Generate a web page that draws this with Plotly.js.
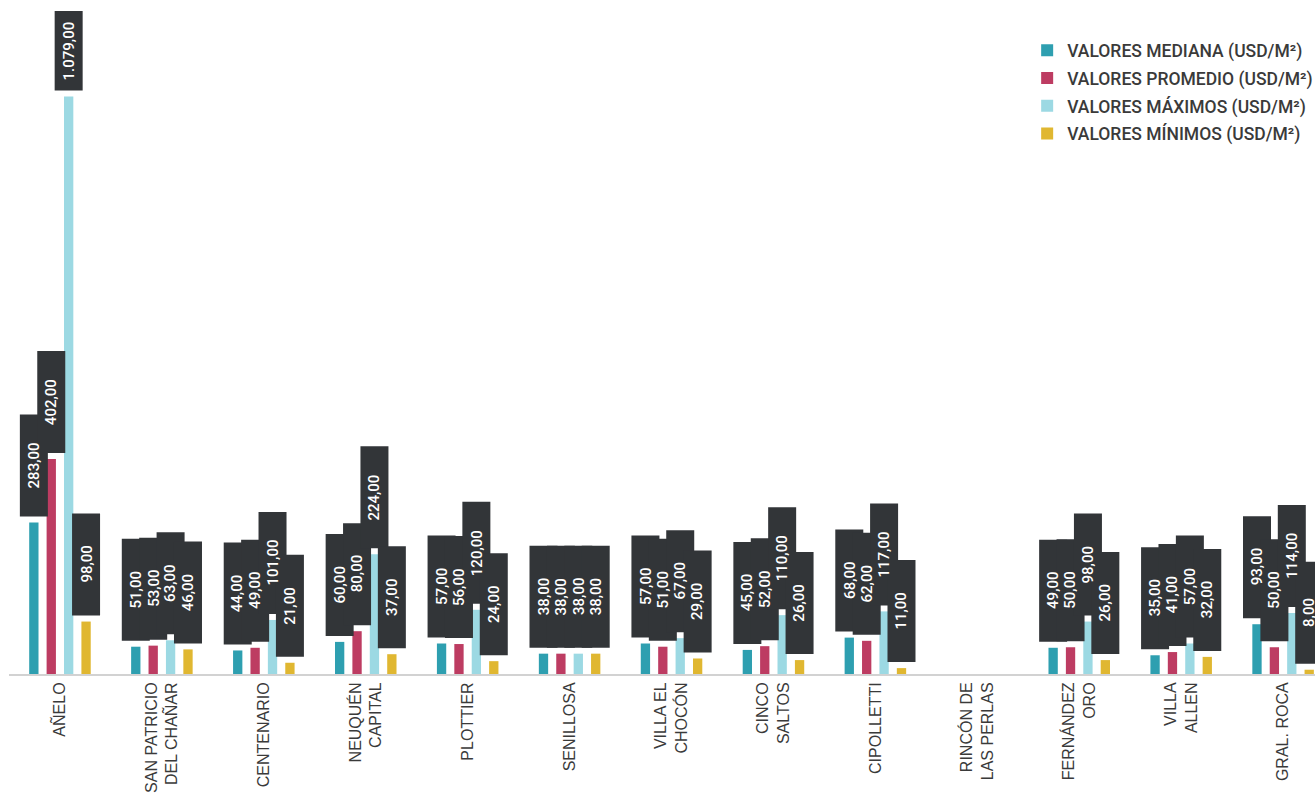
<!DOCTYPE html>
<html>
<head>
<meta charset="utf-8">
<script src="https://cdn.plot.ly/plotly-3.0.1.min.js"></script>
<style>html,body{margin:0;padding:0;overflow:hidden;background:#fff;}</style>
</head>
<body>
<div id="chart" style="width:1315px;height:800px;"></div>
<script>
const categories = ['AÑELO', 'SAN PATRICIO<br>DEL CHAÑAR', 'CENTENARIO', 'NEUQUÉN<br>CAPITAL', 'PLOTTIER', 'SENILLOSA', 'VILLA EL<br>CHOCÓN', 'CINCO<br>SALTOS', 'CIPOLLETTI', 'RINCÓN DE<br>LAS PERLAS', 'FERNÁNDEZ<br>ORO', 'VILLA<br>ALLEN', 'GRAL. ROCA'];
const mediana  = [283, 51, 44, 60, 57, 38, 57, 45, 68, null, 49, 35, 93];
const promedio = [402, 53, 49, 80, 56, 38, 51, 52, 62, null, 50, 41, 50];
const maximos  = [1079, 63, 101, 224, 120, 38, 67, 110, 117, null, 98, 57, 114];
const minimos  = [98, 46, 21, 37, 24, 38, 29, 26, 11, null, 26, 32, 8];
const seriesNames = ['VALORES MEDIANA (USD/M²)', 'VALORES PROMEDIO (USD/M²)', 'VALORES MÁXIMOS (USD/M²)', 'VALORES MÍNIMOS (USD/M²)'];
const seriesColors = ['#2e9fb0', '#bd3c62', '#9cd9e3', '#e0b731'];
const seriesValues = [mediana, promedio, maximos, minimos];

function fmt(v) {
  const parts = v.toFixed(2).split('.');
  const intPart = parts[0].replace(/\B(?=(\d{3})+(?!\d))/g, '.');
  return intPart + ',' + parts[1];
}

const W = 1315, H = 800;
const mL = 9, mR = 0, mT = 11, mB = 126;
const yMax = 1239;
const plotH = H - mT - mB;
const pxPerUnit = plotH / yMax;
const slotPx = 17.4;
const boxH = 102, boxW = 28, gap = 6;

const traces = seriesValues.map((vals, i) => ({
  type: 'bar',
  name: seriesNames[i],
  x: categories,
  y: vals,
  marker: {color: seriesColors[i]},
  legendgroup: 'g' + i,
  hoverinfo: 'skip'
}));

const shapes = [];
const annotations = [];
categories.forEach((cat, c) => {
  seriesValues.forEach((vals, i) => {
    const v = vals[c];
    if (v === null || v === undefined) return;
    const barTopPx = plotH - v * pxPerUnit;
    const h = Math.min(boxH, barTopPx - gap);
    const off = (i - 1.5) * slotPx;
    shapes.push({
      type: 'rect', layer: 'above',
      xref: 'x', yref: 'y',
      xsizemode: 'pixel', ysizemode: 'pixel',
      xanchor: c, yanchor: v,
      x0: off - boxW / 2, x1: off + boxW / 2,
      y0: gap, y1: gap + h,
      fillcolor: '#323538',
      line: {width: 0}
    });
    annotations.push({
      x: cat, y: v, xref: 'x', yref: 'y',
      text: fmt(v),
      showarrow: false,
      textangle: -90,
      font: {family: 'Roboto, sans-serif', size: 15, color: '#ffffff', weight: 500},
      xanchor: 'center', yanchor: 'middle',
      xshift: off,
      yshift: gap + h / 2
    });
  });
});

const layout = {
  width: W, height: H,
  margin: {l: mL, r: mR, t: mT, b: mB, pad: 0, autoexpand: false},
  paper_bgcolor: '#ffffff', plot_bgcolor: '#ffffff',
  barmode: 'group',
  bargap: 0.317,
  bargroupgap: 0.465,
  showlegend: true,
  legend: {
    x: 0.7796, xanchor: 'left', y: 0.9676, yanchor: 'top',
    traceorder: 'grouped', tracegroupgap: 2,
    bgcolor: 'rgba(0,0,0,0)',
    font: {family: 'Roboto, sans-serif', size: 17.5, color: '#3a3a3a', weight: 500}
  },
  xaxis: {
    type: 'category',
    range: [-0.5, 12.313],
    showline: true, linecolor: '#d2d2d2', linewidth: 2,
    showgrid: false, zeroline: false, ticks: '',
    tickangle: -90,
    tickfont: {family: '"Liberation Sans", Arial, sans-serif', size: 16, color: '#3a3a3a'},
    automargin: false,
    fixedrange: true
  },
  yaxis: {
    range: [0, yMax], visible: false, showgrid: false, zeroline: false,
    automargin: false, fixedrange: true
  },
  shapes: shapes,
  annotations: annotations
};

Plotly.newPlot('chart', traces, layout, {displayModeBar: false, staticPlot: true});
</script>
</body>
</html>
